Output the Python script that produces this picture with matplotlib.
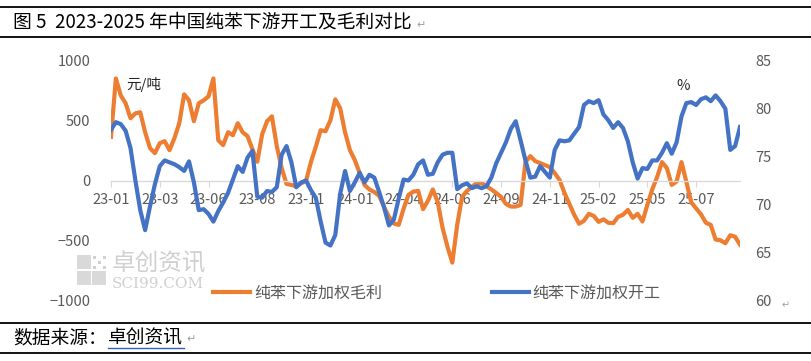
import matplotlib
matplotlib.use("Agg")
import matplotlib.pyplot as plt
from matplotlib.patches import Rectangle
from matplotlib.lines import Line2D

plt.rcParams['font.family'] = ['Noto Sans CJK SC', 'DejaVu Sans']

# weekly data, Jan 2023 -> Aug 2025
tick_labels = ['23-01', '23-03', '23-06', '23-08', '23-11', '24-01', '24-04',
               '24-06', '24-09', '24-11', '25-02', '25-05', '25-07']

# 纯苯下游加权毛利 (元/吨)
margin = [365, 854, 712, 646, 521, 562, 571, 404, 271, 229,
          312, 329, 254, 354, 479, 721, 671, 496, 646, 671,
          704, 854, 337, 296, 404, 379, 479, 404, 371, 262,
          157, 387, 496, 537, 287, 104, -29, -37, -50, -23,
          -4, 154, 282, 421, 412, 504, 679, 604, 404, 254,
          171, 62, -37, -75, -96, -129, -221, -304, -360, -371,
          -237, -121, -93, -87, -240, -170, -75, -179, -396, -554,
          -687, -371, -137, -87, -54, -21, -21, -46, -75, -104,
          -137, -196, -218, -218, -204, 154, 204, 162, 146, 129,
          112, 62, 4, -104, -196, -287, -362, -337, -279, -296,
          -346, -325, -354, -357, -304, -287, -246, -312, -279, -343,
          -204, -75, 29, 154, 104, -37, -8, 154, -12, -183,
          -233, -283, -354, -371, -494, -500, -525, -458, -471, -537]

# 纯苯下游加权开工 (%)
rate = [77.8, 78.6, 78.4, 77.7, 75.9, 72.5, 69.4, 67.3, 69.8, 72.1,
        74.0, 74.6, 74.4, 74.2, 73.9, 73.5, 74.5, 72.3, 69.4, 69.5,
        69.0, 68.2, 69.3, 70.2, 71.2, 72.6, 74.0, 73.4, 74.9, 75.6,
        70.8, 70.7, 71.4, 71.3, 71.8, 75.2, 76.1, 74.4, 71.8, 72.3,
        72.5, 71.5, 70.7, 68.2, 66.0, 65.7, 66.8, 71.1, 73.5, 71.4,
        72.3, 73.3, 72.3, 73.1, 72.8, 71.3, 69.7, 67.8, 68.4, 70.6,
        72.6, 72.5, 73.1, 74.2, 74.6, 73.1, 73.2, 74.4, 75.2, 75.4,
        75.4, 71.6, 72.0, 72.2, 71.7, 71.9, 71.7, 71.9, 72.8, 74.3,
        75.4, 76.5, 77.9, 78.7, 76.7, 74.6, 72.8, 72.9, 74.0, 73.4,
        72.8, 75.7, 76.7, 76.6, 76.7, 77.4, 78.1, 80.4, 80.8, 80.6,
        80.9, 79.4, 78.8, 78.0, 78.6, 78.0, 76.6, 74.4, 72.7, 73.8,
        73.7, 74.6, 74.6, 75.4, 76.4, 75.3, 76.5, 79.2, 80.6, 80.7,
        80.4, 81.0, 81.2, 80.8, 81.4, 80.8, 80.0, 75.7, 76.1, 78.1]

ORANGE = '#ED7D31'
BLUE = '#4472C4'
GREY = '#595959'
W, H = 812, 361


def fx(x):
    return x / W


def fy(y):
    return 1 - y / H


fig = plt.figure(figsize=(W / 100, H / 100), dpi=100)

ax = fig.add_axes([fx(111), fy(300), (740 - 111) / W, (300 - 61) / H])
ax2 = ax.twinx()

x = list(range(len(margin)))
l1, = ax.plot(x, margin, color=ORANGE, lw=3, solid_joinstyle='round')
l2, = ax2.plot(x, rate, color=BLUE, lw=3, solid_joinstyle='round')

ax.set_xlim(0, len(margin) - 1)
ax.set_ylim(-1000, 1000)
ax2.set_ylim(60, 85)
ax.set_yticks([-1000, -500, 0, 500, 1000])
ax2.set_yticks([60, 65, 70, 75, 80, 85])

for a in (ax, ax2):
    for s in a.spines.values():
        s.set_visible(False)
ax.spines['bottom'].set_visible(True)
ax.spines['bottom'].set_position(('data', 0))
ax.spines['bottom'].set_color('#D9D9D9')
ax.spines['bottom'].set_linewidth(1)

ax.set_xticks(range(0, len(margin), 10))
ax.set_xticklabels(tick_labels)
ax.tick_params(axis='x', length=4, color='#D9D9D9', labelcolor=GREY,
               labelsize=10.5, pad=5)
ax.tick_params(axis='y', length=0, labelcolor=GREY, labelsize=10.5, pad=15)
ax2.tick_params(axis='y', length=0, labelcolor=GREY, labelsize=10.5, pad=11)

fig.text(fx(126), fy(84), '元/吨', fontsize=10.5, color='#262626', va='center')
fig.text(fx(676), fy(86), '%', fontsize=10.5, color='#262626', va='center')

# legend
fig.legend([l1, l2], ['纯苯下游加权毛利', '纯苯下游加权开工'], loc='center',
           bbox_to_anchor=(fx(437), fy(293)), ncol=2, frameon=False,
           fontsize=11.5, handlelength=2.3, handletextpad=0.25,
           columnspacing=6.9, labelcolor=GREY)

# watermark
for (rx, ry) in [(77, 255), (77, 271), (92, 271)]:
    fig.patches.append(Rectangle((fx(rx), fy(ry + 14)), 14 / W, 14 / H,
                                 transform=fig.transFigure, color='#D9D9D9', lw=0))
for i in range(3):
    for j in range(3):
        if (i + j) % 2 == 0:
            fig.patches.append(Rectangle((fx(93 + i * 5), fy(256 + j * 5 + 3)), 3 / W, 3 / H,
                                         transform=fig.transFigure, color='#D0D0D0', lw=0))
fig.text(fx(112), fy(264), '卓创资讯', fontsize=17, color='#D0D0D0', va='center')
fig.text(fx(112), fy(284), 'SCI99.COM', fontsize=11, color='#D0D0D0', va='center',
         family='DejaVu Serif')

# title / footer frame
for yl in (7, 37, 323, 353):
    fig.add_artist(Line2D([0, 1], [fy(yl), fy(yl)], color='black', lw=1.3,
                          transform=fig.transFigure))
fig.text(fx(13), fy(22), '图 5  2023-2025 年中国纯苯下游开工及毛利对比', fontsize=13.5,
         color='black', va='center')
fig.text(fx(416), fy(25), '↵', fontsize=8, color='#A0A0A0', va='center',
         family=['DejaVu Sans'])
fig.text(fx(13), fy(338), '数据来源：', fontsize=13.5, color='black', va='center')
fig.text(fx(108), fy(338), '卓创资讯', fontsize=13.5, color='black', va='center')
fig.add_artist(Line2D([fx(108), fx(184)], [fy(348), fy(348)], color='#3060C0', lw=1,
                      transform=fig.transFigure))
fig.text(fx(186), fy(339), '↵', fontsize=8, color='#A0A0A0', va='center',
         family=['DejaVu Sans'])
fig.text(fx(782), fy(305), '↵', fontsize=7, color='#A0A0A0', va='center',
         family=['DejaVu Sans'])

fig.savefig('out.png', dpi=100)
